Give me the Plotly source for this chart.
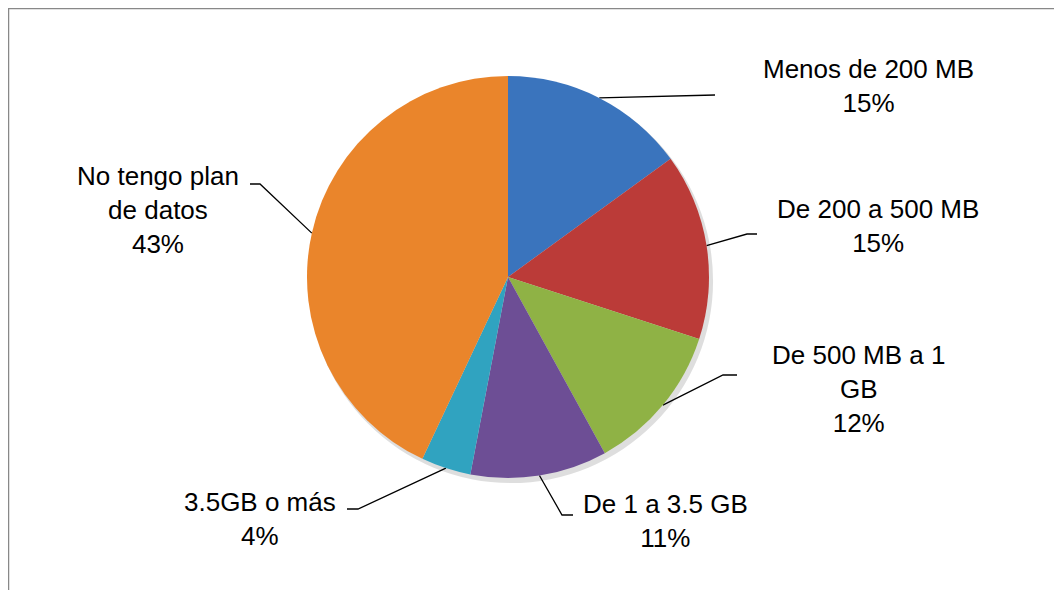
"""
Gráfico de torta: plan de datos móviles
"""

import textwrap
import numpy as np
import plotly.graph_objects as go

# ventana 1062x590; la pagina deja 8px de margen en el body
PW, PH = 1062, 590
OFF = 8
FW, FH = PW - OFF, PH - OFF

categorias = ['Menos de 200 MB', 'De 200 a 500 MB', 'De 500 MB a 1 GB',
              'De 1 a 3.5 GB', '3.5GB o más', 'No tengo plan de datos']
porcentajes = [15, 15, 12, 11, 4, 43]

colores = ['#3a74bd', '#bb3b38', '#8fb245', '#6d4e95', '#30a3c0', '#ea852b']

# geometria de la torta (px de pagina)
CX, CY, R = 508, 277, 201

# posicion de cada etiqueta: centro del texto, codo y final de la linea guia
etiquetas = [
    dict(tx=868, ty=86, ex=715, ey=95, fx=715),
    dict(tx=878, ty=226, ex=747, ey=234, fx=757),
    dict(tx=858, ty=389, ex=723, ey=375, fx=737),
    dict(tx=665, ty=521, ex=562, ey=515, fx=573),
    dict(tx=260, ty=519, ex=358, ey=509, fx=347),
    dict(tx=158, ty=210, ex=260, ey=184, fx=250),
]


def dominio(cx, cy, r):
    return dict(x=[(cx - r - OFF) / FW, (cx + r - OFF) / FW],
                y=[1 - (cy + r - OFF) / FH, 1 - (cy - r - OFF) / FH])


fig = go.Figure()

# sombra suave
fig.add_trace(go.Pie(
    values=[1],
    domain=dominio(CX + 3, CY + 4, R + 1),
    marker=dict(colors=['rgba(0,0,0,0.13)'], line=dict(width=0)),
    textinfo='none', hoverinfo='skip', sort=False, showlegend=False
))

fig.add_trace(go.Pie(
    labels=categorias,
    values=porcentajes,
    domain=dominio(CX, CY, R),
    sort=False,
    direction='clockwise',
    rotation=0,
    marker=dict(colors=colores, line=dict(width=0)),
    textinfo='none',
    showlegend=False
))

# lineas guia desde el borde de cada porcion
total = sum(porcentajes)
acumulado = np.cumsum([0] + porcentajes)
for i, et in enumerate(etiquetas):
    ang = np.deg2rad((acumulado[i] + porcentajes[i] / 2) / total * 360)
    x0 = CX + R * np.sin(ang)
    y0 = CY - R * np.cos(ang)
    fig.add_trace(go.Scatter(
        x=[x0, et['ex'], et['fx']],
        y=[y0, et['ey'], et['ey']],
        mode='lines',
        line=dict(color='black', width=1.3),
        hoverinfo='skip', showlegend=False
    ))
    texto = '<br>'.join(textwrap.wrap(categorias[i], 15)) + f'<br>{porcentajes[i]}%'
    fig.add_annotation(
        x=et['tx'], y=et['ty'], xref='x', yref='y',
        text=texto, showarrow=False,
        xanchor='center', yanchor='middle', align='center',
        font=dict(family='Liberation Sans, Arial, sans-serif', size=26, color='black')
    )

fig.update_layout(
    width=FW, height=FH,
    margin=dict(l=0, r=0, t=0, b=0),
    paper_bgcolor='white',
    plot_bgcolor='rgba(0,0,0,0)',
    xaxis=dict(range=[OFF, PW], visible=False, fixedrange=True),
    yaxis=dict(range=[PH, OFF], visible=False, fixedrange=True),
    shapes=[dict(type='rect', xref='paper', yref='paper',
                 x0=0.5 / FW, x1=1.3, y0=-0.3, y1=1 - 0.5 / FH,
                 line=dict(color='#888888', width=1.5))]
)

fig.write_html("out.html")
